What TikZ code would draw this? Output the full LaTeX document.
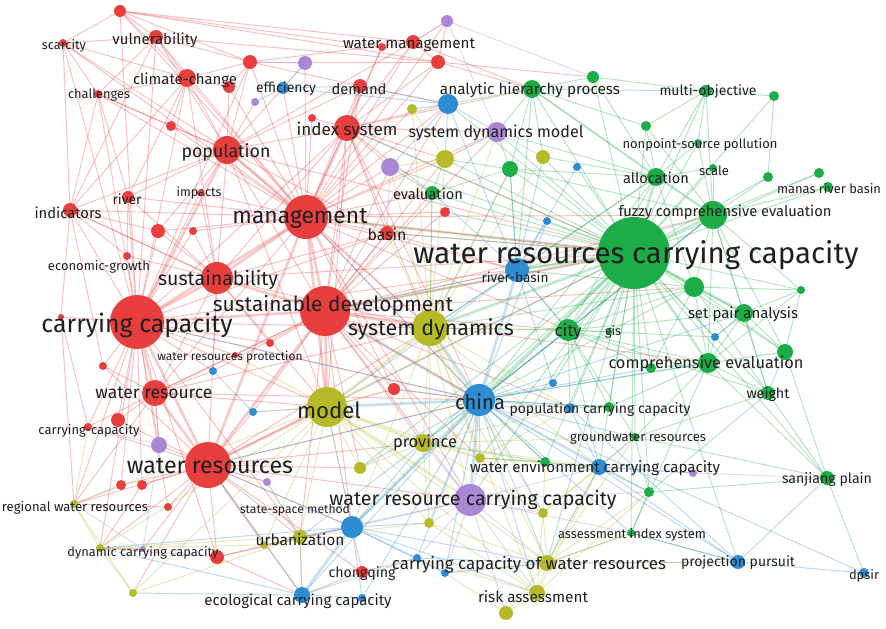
\documentclass[tikz,border=0pt]{standalone}
\usepackage{fontspec}
\setmainfont{Fira Sans}
\usepackage{graphicx}
\definecolor{cR}{RGB}{232,62,62}
\definecolor{cG}{RGB}{28,172,72}
\definecolor{cB}{RGB}{45,140,210}
\definecolor{cY}{RGB}{182,186,40}
\definecolor{cP}{RGB}{170,135,212}
\tikzset{
  ln/.style={line width=0.95pt, draw opacity=0.33},
  hub/.style={line width=2.6pt, draw opacity=0.28},
  dot/.style={circle, inner sep=0pt, draw=none},
  lab/.style={inner sep=0pt, text=black!88, font=\fontsize{12}{14}\selectfont}
}
\newcommand{\fan}[3]{\foreach \tg in {#3}{\draw[#1] (#2) -- (\tg);}}
\newcommand{\lbl}[5]{\node[lab] (#1) at (#2,#3) {\resizebox{#4pt}{!}{#5}};}
\begin{document}
\begin{tikzpicture}[x=1pt,y=-1pt]
\useasboundingbox[fill=white] (0,0) rectangle (886,629);
% ---------- coordinates
% red
\foreach \nm/\px/\py in {cc/137/322, mgmt/306/217, sd/325/311, wr/208/465, sus/217/278, pop/227/150, idx/347/128, wres/155/393, clim/187/78, vul/156/37, scar/63/43, chal/98/94, river/128/197, imp/200/193, ind/70/210, econ/127/256, basin/387/233, wrp/235/355, ccap/88/427, wma/413/42, wmb/382/47, dem/360/86, chq/362/572, rA/120/11, rB/250/62, rC/229/87, rD/171/126, rE/438/62, rF/312/118, rG/158/231, rH/193/231, rI/103/366, rJ/118/420, rK/121/485, rL/142/485, rM/168/507, rN/217/557, rO/270/343, rP/394/389, rQ/445/212, rR/61/317}
  {\coordinate (\nm) at (\px,\py);}
% green
\foreach \nm/\px/\py in {wrcc/634/253, fce/713/215, city/568/330, spa/744/313, ce/708/363, gA/785/352, gB/651/368, wt/768/393, alloc/656/177, scl/713/168, nps/698/143, mo/706/91, mrbA/819/173, mrbB/828/187, gC/768/177, ahp/532/89, gD/593/77, gE/774/96, gF/646/126, gis/609/332, sjp/827/478, ais/631/533, gwr/635/437, gG/510/169, gH/694/287, gI/801/290, gJ/649/492, eval/432/193, gK/545/462, gL/609/407}
  {\coordinate (\nm) at (\px,\py);}
% blue
\foreach \nm/\px/\py in {china/479/400, rvb/517/270, ahpb/448/104, eff/283/88, wecc/599/467, pcc/570/408, pp/738/562, dpsir/864/573, ecoA/302/595, ecoB/362/598, bA/352/527, bB/417/558, bC/445/573, bD/213/371, bE/253/412, bF/547/221, bG/553/383, bH/577/167, bI/715/337}
  {\coordinate (\nm) at (\px,\py);}
% yellow
\foreach \nm/\px/\py in {model/327/407, sdyn/430/328, prov/423/443, urb/300/537, raA/537/593, raB/506/613, ccwr/547/563, rwr/74/504, dcc/100/548, yA/133/593, yB/360/468, yC/429/523, yD/445/159, yE/543/157, yF/412/109, yG/480/458, yH/543/513, yI/264/545}
  {\coordinate (\nm) at (\px,\py);}
% purple
\foreach \nm/\px/\py in {wrcc2/470/500, sdm/497/132, pA/447/21, pB/305/63, pC/390/167, pD/255/102, pE/159/445, pF/267/482, pG/693/473, pH/143/549}
  {\coordinate (\nm) at (\px,\py);}
% ---------- edges: red
\fan{hub,cR}{cc}{mgmt,sd,wr,sus,wres,pop}
\fan{ln,cR}{cc}{scar,chal,vul,clim,river,ind,econ,rG,rH,rI,rJ,rR,ccap,rwr,rK,rL,pE,rA,rB,imp,idx,basin,model,sdyn,wrcc,china,bD,wrp,rO,dcc,urb,rN,rM}
\fan{hub,cR}{mgmt}{sd,sus,pop,idx,wr,model,wrcc}
\fan{ln,cR}{mgmt}{clim,vul,rA,rB,rC,dem,wma,wmb,rE,basin,sdyn,china,eval,river,ind,imp,chal,scar,rD,rG,rH,eff,pB,pC,yD,ahpb,rvb,wrcc2,rP,rQ,wres,city,rF,fce,sdm,yF,pA}
\fan{hub,cR}{sd}{wr,sus,model,sdyn,wrcc,china}
\fan{ln,cR}{sd}{pop,idx,basin,wres,rO,wrp,bD,bE,rP,prov,yB,wrcc2,bA,urb,rvb,city,eval,pC,dem,rQ,fce,ce,ahpb,sdm,yD,pcc,yG,gH}
\fan{hub,cR}{wr}{wres,model}
\fan{ln,cR}{wr}{sus,sdyn,wrcc,china,rJ,rK,rL,rM,rN,pE,pF,rwr,dcc,ccap,urb,bA,ecoA,chq,prov,yB,wrcc2,bE,rI,pH,yA,yI}
\fan{ln,cR}{sus}{pop,idx,wres,ind,river,econ,rG,rH,basin,model,sdyn,wrcc,bD,imp,clim,rO}
\fan{ln,cR}{pop}{idx,clim,vul,chal,scar,river,imp,ind,rB,rC,rD,dem,eff,wma,rG,model,sdyn,wrcc,basin,pD}
\fan{ln,cR}{idx}{dem,wma,wmb,rE,rF,basin,eval,wrcc,sdyn,ahpb,yD,pC,model,china,sdm,ahp}
\fan{ln,cR}{wres}{rI,rJ,ccap,pE,rwr,model,sdyn,china,wrp,bD}
\fan{ln,cR}{clim}{vul,rA,rB,chal,scar,rC,ind,river,rD}
\fan{ln,cR}{vul}{scar,rA,chal,rB,ind,rE}
\fan{ln,cR}{scar}{rA,ind,chal}
\fan{ln,cR}{chal}{ind,rD,river}
\fan{ln,cR}{rA}{rB,rE,wma}
\fan{ln,cR}{rB}{wma,dem,rC}
\fan{ln,cR}{ind}{sus,rG,rI,rR}
\foreach \a/\b in {rA/wmb, rB/rE, rE/ahp, rE/pA, wma/pA, wma/rE, dem/ahpb, basin/wrcc, basin/rvb, rP/china, rP/model, chq/bA, chq/ecoA, chq/bB, rN/urb, rN/ecoA, rN/dcc, rN/bA, rM/rwr, rL/dcc, rK/rwr, ind/econ, river/econ, rR/ccap, rR/rwr, wma/ahp, rE/gD}
  {\draw[ln,cR] (\a) -- (\b);}
% green
\fan{hub,cG}{wrcc}{fce,city,gH,rvb,china,sdyn,alloc,ce,spa}
\fan{ln,cG}{wrcc}{gA,gB,wt,scl,nps,mo,mrbA,mrbB,gC,ahp,gD,gE,gF,gis,gG,gI,gJ,eval,model,sdm,yE,yD,bF,bG,bH,bI,pcc,wecc,wrcc2,prov,ccwr,gwr,ais,sjp,pp,ahpb,idx,basin,rQ,pC,gL,gK,sd,mgmt,yB,yG,bA}
\fan{ln,cG}{fce}{alloc,scl,nps,mrbA,mrbB,gC,gI,spa,ce,gH,gA,city,wt,ahp,gF,mo,rvb,china,gG}
\fan{ln,cG}{city}{ce,spa,gH,china,rvb,gis,wecc,pcc,gwr,gB,bI,sdyn,wt,gL}
\fan{ln,cG}{ce}{spa,gA,wt,gH,gI,china,gwr,gB,bI,ais,sjp,gL}
\fan{ln,cG}{spa}{gA,gI,wt,gH,bI}
\fan{ln,cG}{wt}{gA,sjp,gwr,gJ}
\fan{ln,cG}{gH}{gA,gI,alloc,china,rvb,sdyn,wt,gB}
\fan{ln,cG}{alloc}{ahp,gF,nps,scl,mo,gG,gD,yE,sdm,city,rvb,china,sdyn}
\fan{ln,cG}{ahp}{gD,gF,mo,sdm,yE,gG,ahpb,rvb}
\fan{ln,cG}{mo}{gE,gF,nps,gD}
\foreach \a/\b in {gE/gC, sjp/pp, sjp/dpsir, sjp/gwr, sjp/gJ, gJ/ais, gJ/gwr, gJ/wecc, ais/pp, ais/ccwr, gG/eval, gG/rvb, gG/sdyn, gG/yD, gG/sdm, eval/sdyn, eval/yD, eval/pC, gK/wecc, gK/prov, gK/yG, gK/china, gL/pcc, gL/china, gA/gI, gA/sjp}
  {\draw[ln,cG] (\a) -- (\b);}
% blue
\fan{hub,cB}{china}{rvb,sdyn,model,wrcc2,bA}
\fan{ln,cB}{china}{prov,pcc,wecc,bB,bC,ecoA,ecoB,urb,ccwr,pp,bG,yG,yC,yH,gB,ais,gwr,raA,dpsir,sd,wr,cc,mgmt,bF,yB,rP,gL,gK,gJ,fce,ce,spa,city}
\fan{ln,cB}{rvb}{sdyn,city,bF,ahpb,bH,bG,model,eval,gG,yE,sd}
\fan{hub,cB}{bA}{ecoA}
\fan{ln,cB}{bA}{ecoB,urb,bB,bC,wrcc2,model,yC,prov,dcc,wr,yI,ccwr,raA}
\fan{ln,cB}{ecoA}{urb,ecoB,bB,wr,dcc,yA}
\fan{ln,cB}{pp}{dpsir,wecc,ais,ccwr,pcc}
\fan{ln,cB}{wecc}{pcc,gwr,pG,ccwr}
\fan{ln,cB}{ahpb}{eff,sdm,yD,yF,dem,pC}
\foreach \a/\b in {eff/pD, eff/pB, eff/dem, bB/bC, bB/ccwr, bC/ccwr, bD/bE, bE/model, bI/spa}
  {\draw[ln,cB] (\a) -- (\b);}
% yellow
\fan{hub,cY}{model}{sdyn,prov,wrcc2}
\fan{ln,cY}{model}{urb,yB,yC,bA,raA,ccwr,dcc,rwr,bE,wrp,rP,yG,pF,yA,yI}
\fan{ln,cY}{sdyn}{prov,yD,yE,yF,sdm,yG,yH,wrcc2,city,eval,pC,basin,ccwr,raA,bA,yC,wecc,pcc,gG}
\fan{ln,cY}{ccwr}{raA,raB,yH,yC,bC,wecc,gwr,gJ,ais,pp}
\fan{ln,cY}{raA}{raB,yH,wecc,gJ,yC,bB}
\fan{ln,cY}{prov}{yB,yG,yC,wecc,pcc,gwr,yH}
\foreach \a/\b in {raB/bC, urb/dcc, urb/yA, urb/ecoA, urb/yC, urb/pF, urb/yI, rwr/dcc, rwr/yA, rwr/ccap, dcc/yA, dcc/pH, yD/yF, yD/pC, yD/sdm, yI/dcc, yH/wecc, yH/gK, yH/gwr, yG/wecc, yG/pcc, yG/gK}
  {\draw[ln,cY] (\a) -- (\b);}
% purple
\fan{ln,cP}{wrcc2}{ccwr,raA,raB,yC,yH,yG,prov,bB,bC,urb,wecc,ais,gJ}
\foreach \a/\b in {sdm/pA, sdm/yE, sdm/yD, pA/wma, pA/gD, pB/eff, pB/rB, pC/basin, pE/wres, pE/ccap, pE/pH, pH/rwr, pH/dcc, pF/wr, pF/urb, pG/wecc, pG/sjp}
  {\draw[ln,cP] (\a) -- (\b);}
% ---------- node dots
\foreach \nm/\rad in {cc/27, mgmt/22, sd/25, wr/23, sus/16, pop/14, idx/13, wres/13, clim/9, vul/7, scar/4, chal/4, river/6, imp/3, ind/7, econ/4, basin/7, wrp/3, ccap/4, wma/7, wmb/4, dem/7, chq/6, rA/6, rB/7, rC/6, rD/5, rE/7, rF/4, rG/7, rH/4, rI/4, rJ/7, rK/5, rL/5, rM/4, rN/7, rO/4, rP/6, rQ/5, rR/3}
  {\node[dot, fill=cR, minimum size=\rad*2pt] (\nm-d) at (\nm) {};}
\foreach \nm/\rad in {wrcc/36, fce/14, city/11, spa/9, ce/10, gA/8, gB/5, wt/7, alloc/9, scl/4, nps/4, mo/6, mrbA/5, mrbB/5, gC/5, ahp/9, gD/6, gE/5, gF/5, gis/3, sjp/7, ais/4, gwr/4, gG/8, gH/10, gI/4, gJ/5, eval/7, gK/5, gL/5}
  {\node[dot, fill=cG, minimum size=\rad*2pt] (\nm-d) at (\nm) {};}
\foreach \nm/\rad in {china/16, rvb/12, ahpb/10, eff/6, wecc/8, pcc/5, pp/7, dpsir/5, ecoA/8, ecoB/4, bA/11, bB/4, bC/4, bD/4, bE/4, bF/4, bG/4, bH/4, bI/4}
  {\node[dot, fill=cB, minimum size=\rad*2pt] (\nm-d) at (\nm) {};}
\foreach \nm/\rad in {model/20, sdyn/18, prov/9, urb/7, raA/8, raB/7, ccwr/8, rwr/4, dcc/4, yA/4, yB/6, yC/5, yD/9, yE/7, yF/5, yG/5, yH/5, yI/4}
  {\node[dot, fill=cY, minimum size=\rad*2pt] (\nm-d) at (\nm) {};}
\foreach \nm/\rad in {wrcc2/16, sdm/10, pA/6, pB/7, pC/9, pD/4, pE/8, pF/4, pG/4, pH/3}
  {\node[dot, fill=cP, minimum size=\rad*2pt] (\nm-d) at (\nm) {};}
% ---------- labels
\lbl{l-cc}{137}{325}{191}{carrying capacity}
\lbl{l-mgmt}{300}{218}{135}{management}
\lbl{l-wrcc}{636}{255}{445}{water resources carrying capacity}
\lbl{l-sd}{333}{306}{240}{sustainable development}
\lbl{l-sus}{218}{280}{120}{sustainability}
\lbl{l-sdyn}{431}{329}{166}{system dynamics}
\lbl{l-model}{329}{410}{64}{model}
\lbl{l-wr}{210}{466}{166}{water resources}
\lbl{l-wrcc2}{473}{500}{287}{water resource carrying capacity}
\lbl{l-china}{480}{402}{50}{china}
\lbl{l-pop}{226}{152}{89}{population}
\lbl{l-idx}{347}{131}{101}{index system}
\lbl{l-wres}{154}{393}{117}{water resource}
\lbl{l-clim}{185}{80}{104}{climate-change}
\lbl{l-vul}{155}{40}{85}{vulnerability}
\lbl{l-scar}{64}{46}{44}{scarcity}
\lbl{l-chal}{99}{95}{62}{challenges}
\lbl{l-river}{127}{199}{29}{river}
\lbl{l-imp}{199}{193}{45}{impacts}
\lbl{l-ind}{68}{213}{67}{indicators}
\lbl{l-econ}{99}{267}{102}{economic-growth}
\lbl{l-basin}{387}{234}{39}{basin}
\lbl{l-wrp}{230}{357}{145}{water resources protection}
\lbl{l-ccap}{89}{431}{101}{carrying-capacity}
\lbl{l-rwr}{75}{508}{146}{regional water resources}
\lbl{l-dcc}{143}{553}{151}{dynamic carrying capacity}
\lbl{l-ssm}{295}{510}{110}{state-space method}
\lbl{l-eco}{298}{601}{187}{ecological carrying capacity}
\lbl{l-urb}{300}{540}{89}{urbanization}
\lbl{l-chq}{362}{573}{67}{chongqing}
\lbl{l-ccwr}{529}{565}{274}{carrying capacity of water resources}
\lbl{l-ra}{533}{597}{110}{risk assessment}
\lbl{l-pp}{738}{563}{114}{projection pursuit}
\lbl{l-dpsir}{864}{576}{30}{dpsir}
\lbl{l-sjp}{827}{479}{90}{sanjiang plain}
\lbl{l-ais}{632}{535}{148}{assessment index system}
\lbl{l-wecc}{595}{468}{250}{water environment carrying capacity}
\lbl{l-gwr}{638}{438}{136}{groundwater resources}
\lbl{l-pcc}{600}{410}{181}{population carrying capacity}
\lbl{l-prov}{425}{443}{64}{province}
\lbl{l-wt}{768}{394}{43}{weight}
\lbl{l-ce}{706}{364}{195}{comprehensive evaluation}
\lbl{l-gis}{613}{332}{16}{gis}
\lbl{l-spa}{743}{314}{110}{set pair analysis}
\lbl{l-fce}{725}{212}{213}{fuzzy comprehensive evaluation}
\lbl{l-city}{568}{332}{27}{city}
\lbl{l-rvb}{515}{277}{67}{river-basin}
\lbl{l-alloc}{656}{178}{66}{allocation}
\lbl{l-scl}{714}{171}{30}{scale}
\lbl{l-nps}{700}{145}{155}{nonpoint-source pollution}
\lbl{l-mrb}{829}{189}{104}{manas river basin}
\lbl{l-mo}{708}{92}{97}{multi-objective}
\lbl{l-ahp}{530}{90}{180}{analytic hierarchy process}
\lbl{l-wm}{409}{45}{132}{water management}
\lbl{l-dem}{359}{89}{55}{demand}
\lbl{l-eff}{286}{89}{60}{efficiency}
\lbl{l-sdm}{496}{133}{175}{system dynamics model}
\lbl{l-eval}{428}{194}{70}{evaluation}
\end{tikzpicture}
\end{document}
